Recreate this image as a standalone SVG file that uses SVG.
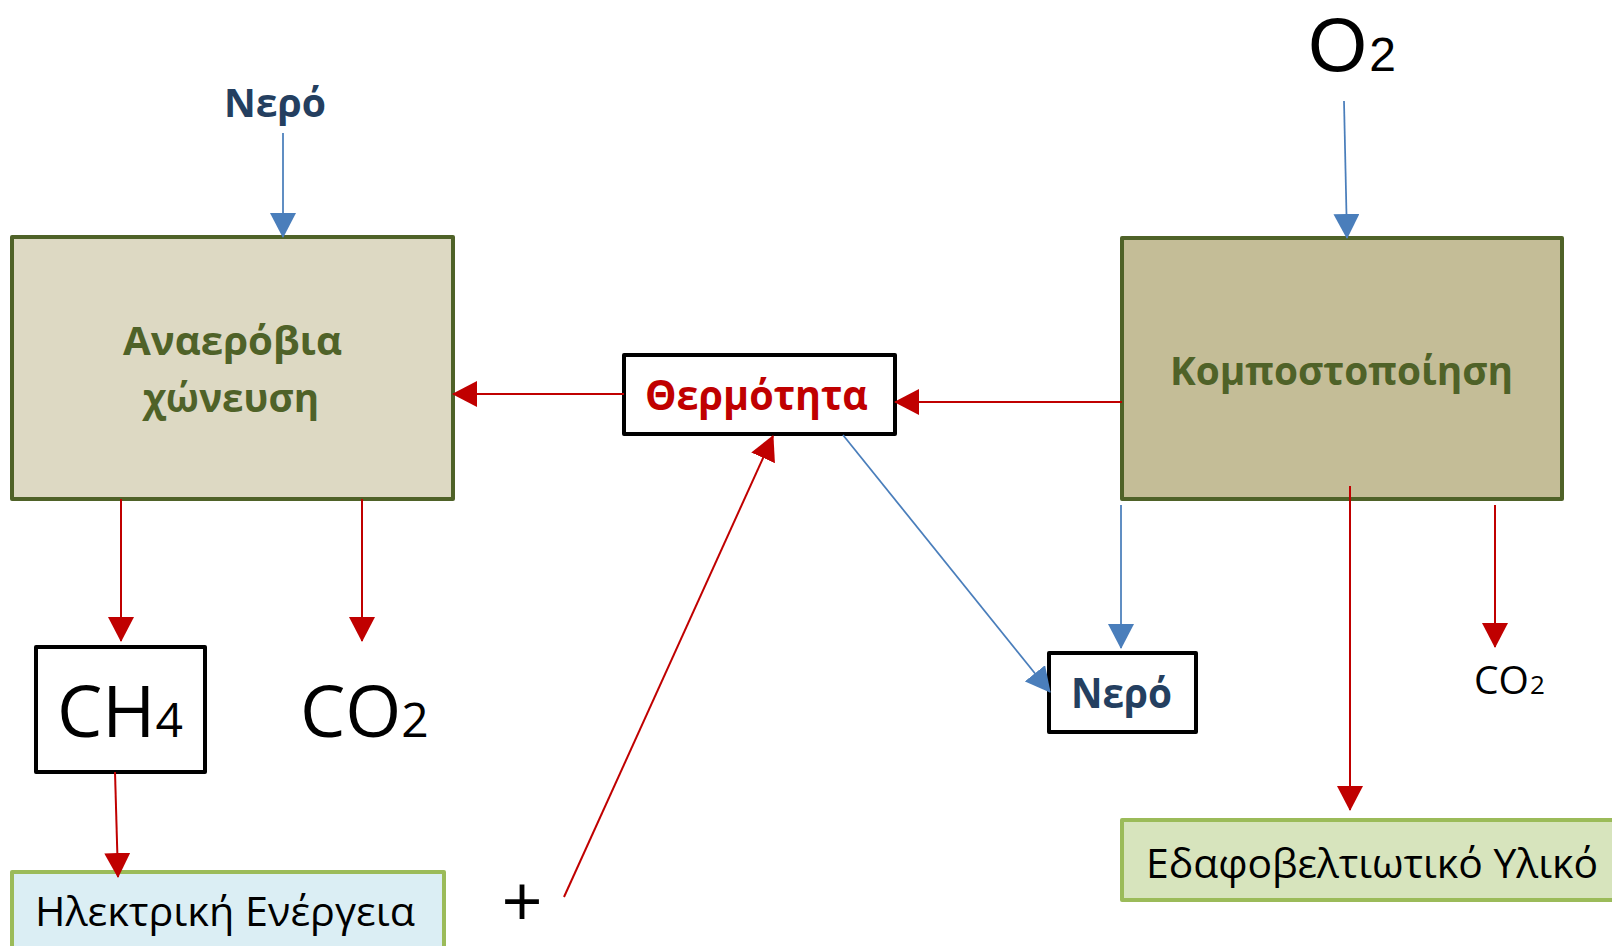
<svg xmlns="http://www.w3.org/2000/svg" width="1612" height="946" viewBox="0 0 1612 946">
<style>
text{font-family:"Open Sans","Noto Sans","DejaVu Sans",sans-serif}
.b{font-weight:700}
.proc{stroke:#4F6228;stroke-width:4;stroke-linejoin:round}
.blk{fill:#fff;stroke:#000;stroke-width:4;stroke-linejoin:round}
.grn{stroke:#9BBB59;stroke-width:4;stroke-linejoin:round}
.red{stroke:#C00000;stroke-width:2;fill:none;marker-end:url(#ar)}
.blu{stroke:#4A7EBB;stroke-width:1.75;fill:none;marker-end:url(#ab)}
</style>
<defs>
<marker id="ar" viewBox="0 0 25 26" markerWidth="25" markerHeight="26" refX="24" refY="13" orient="auto" markerUnits="userSpaceOnUse"><path d="M0,0 L25,13 L0,26 z" fill="#C00000"/></marker>
<marker id="ab" viewBox="0 0 25 26" markerWidth="25" markerHeight="26" refX="24" refY="13" orient="auto" markerUnits="userSpaceOnUse"><path d="M0,0 L25,13 L0,26 z" fill="#4A7EBB"/></marker>
</defs>
<rect width="1612" height="946" fill="#fff"/>

<g id="water-top"><text class="b" x="224" y="117" font-size="40" fill="#243F60" textLength="102" lengthAdjust="spacingAndGlyphs">Νερό</text></g>

<g id="anaerobic">
<rect class="proc" x="12" y="237" width="441" height="262" fill="#DDD9C3"/>
<text class="b" x="123" y="355" font-size="39" fill="#4F6228" textLength="219" lengthAdjust="spacingAndGlyphs">Αναερόβια</text>
<text class="b" x="143" y="412" font-size="39" fill="#4F6228" textLength="176" lengthAdjust="spacingAndGlyphs">χώνευση</text>
</g>

<g id="heat">
<rect class="blk" x="624" y="355" width="271" height="79"/>
<text class="b" x="645" y="410" font-size="41" fill="#C00000" textLength="223" lengthAdjust="spacingAndGlyphs">Θερμότητα</text>
</g>

<g id="o2"><text x="1308" y="71" font-size="76" fill="#000" style="font-family:'Liberation Sans',Arial,sans-serif">O<tspan font-size="48" dx="2">2</tspan></text></g>

<g id="compost">
<rect class="proc" x="1122" y="238" width="440" height="261" fill="#C4BD97"/>
<text class="b" x="1170" y="385" font-size="40" fill="#4F6228" textLength="343" lengthAdjust="spacingAndGlyphs">Κομποστοποίηση</text>
</g>

<g id="ch4">
<rect class="blk" x="36" y="647" width="169" height="125"/>
<text x="57" y="737" font-size="72" fill="#000">CH<tspan font-size="48">4</tspan></text>
</g>

<g id="co2-left"><text x="300" y="737" font-size="72" fill="#000">CO<tspan font-size="48">2</tspan></text></g>

<g id="water-box">
<rect class="blk" x="1049" y="653" width="147" height="79"/>
<text class="b" x="1071" y="708" font-size="41" fill="#243F60" textLength="101" lengthAdjust="spacingAndGlyphs">Νερό</text>
</g>

<g id="co2-right"><text x="1474" y="694" font-size="39" fill="#000">CO<tspan font-size="26" dx="1">2</tspan></text></g>

<g id="electric">
<rect class="grn" x="12" y="872" width="432" height="110" fill="#DBEEF4"/>
<text x="35" y="926" font-size="40" fill="#000" textLength="380" lengthAdjust="spacingAndGlyphs">Ηλεκτρική Ενέργεια</text>
</g>

<g id="soil">
<rect class="grn" x="1122" y="820" width="520" height="80" fill="#D7E4BD"/>
<text x="1146" y="878" font-size="41" fill="#000" textLength="452" lengthAdjust="spacingAndGlyphs">Εδαφοβελτιωτικό Υλικό</text>
</g>

<g id="plus"><text x="522" y="927" font-size="72" text-anchor="middle" fill="#000">+</text></g>

<g id="connectors">
<line class="blu" x1="283" y1="133" x2="283" y2="237"/>
<line class="blu" x1="1344" y1="101" x2="1347" y2="238"/>
<line class="red" x1="624" y1="394" x2="453" y2="394"/>
<line class="red" x1="1122" y1="402" x2="895" y2="402"/>
<line class="red" x1="121" y1="499" x2="121" y2="641"/>
<line class="red" x1="362" y1="499" x2="362" y2="641"/>
<line class="red" x1="115" y1="772" x2="118" y2="877"/>
<line class="red" x1="564" y1="897" x2="773" y2="436"/>
<line class="blu" x1="843" y1="435" x2="1050" y2="692"/>
<line class="blu" x1="1121" y1="505" x2="1121" y2="648"/>
<line class="red" x1="1350" y1="486" x2="1350" y2="810"/>
<line class="red" x1="1495" y1="505" x2="1495" y2="647"/>
</g>
</svg>
